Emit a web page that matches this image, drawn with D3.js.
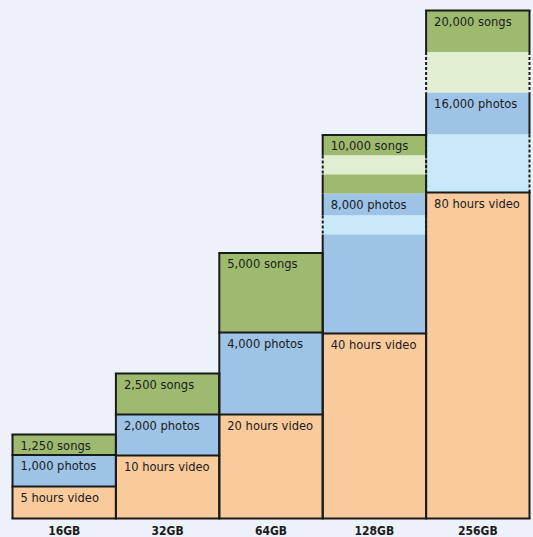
<!DOCTYPE html>
<html>
<head>
<meta charset="utf-8">
<script src="https://cdn.jsdelivr.net/npm/d3@7"></script>
<style>
  html, body { margin: 0; padding: 0; background: #edf1f9; }
  svg { display: block; }
  text { font-family: "DejaVu Sans Condensed", "DejaVu Sans", sans-serif; font-stretch: condensed; fill: #1b1b1b; }
</style>
</head>
<body>
<svg id="chart" width="533" height="537"></svg>
<script>
const capacities = ['16GB', '32GB', '64GB', '128GB', '256GB'];
const videoHours = [5, 10, 20, 40, 80];
const photoCounts = [1000, 2000, 4000, 8000, 16000];
const songCounts = [1250, 2500, 5000, 10000, 20000];

// drawn heights of each block (the art is not to scale)
const videoSpan = [32, 63, 104, 185, 326];
const photoSpan = [31.5, 41, 82, 140, 100];
const songSpan = [20.5, 41, 79.5, 58.5, 82];

// pale "cut" strip inside a block: [offset from block top, strip height]
const photoBreak = [null, null, null, [22, 19], [42, 58]];
const songBreak = [null, null, null, [20.5, 19], [41.5, 40.5]];

const fmt = d3.format(',');
const colors = {
  video: { dark: '#f9ca9b', light: '#f9ca9b' },
  photos: { dark: '#9dc3e6', light: '#c8e9fa' },
  songs: { dark: '#9dba6f', light: '#e1eed2' }
};
const ink = '#1b1b1b';

const svg = d3.select('#chart');

let x = d3.scaleBand()
  .domain(capacities)
  .range([12.5, 529.5]);

let y = d3.scaleLinear()
  .domain([0, 508])
  .range([518.5, 10.5]);

// build the stacked blocks, bottom-up
let bars = capacities.map((cap, i) => {
  let base = 0;
  let blocks = [
    { key: 'video', span: videoSpan[i], brk: null, label: videoHours[i] + ' hours video' },
    { key: 'photos', span: photoSpan[i], brk: photoBreak[i], label: fmt(photoCounts[i]) + ' photos' },
    { key: 'songs', span: songSpan[i], brk: songBreak[i], label: fmt(songCounts[i]) + ' songs' }
  ];
  blocks.forEach((b, j) => {
    b.lo = base;
    b.hi = base + b.span;
    b.top = j == blocks.length - 1;
    base = b.hi;
    // split into pieces, top-down
    if (b.brk) {
      let [off, h] = b.brk;
      b.pieces = [
        { lo: b.hi - off, hi: b.hi, light: false },
        { lo: b.hi - off - h, hi: b.hi - off, light: true }
      ];
      if (b.hi - off - h > b.lo + 0.1) {
        b.pieces.push({ lo: b.lo, hi: b.hi - off - h, light: false });
      }
    } else {
      b.pieces = [{ lo: b.lo, hi: b.hi, light: false }];
    }
  });
  return { cap: cap, blocks: blocks, total: base };
});

let g = svg.append('g');

bars.forEach(bar => {
  let x0 = x(bar.cap), x1 = x0 + x.bandwidth();
  let bg = g.append('g').attr('class', 'bar');

  bar.blocks.forEach(b => {
    bg.selectAll(null)
      .data(b.pieces).enter()
      .append('rect')
      .attr('x', x0)
      .attr('y', d => y(d.hi))
      .attr('width', x.bandwidth())
      .attr('height', d => y(d.lo) - y(d.hi))
      .style('fill', d => d.light ? colors[b.key].light : colors[b.key].dark);
  });
});

// outlines drawn after all fills so neighbours don't cover them
bars.forEach(bar => {
  let x0 = x(bar.cap), x1 = x0 + x.bandwidth();
  let og = g.append('g').attr('class', 'outline')
    .style('stroke', ink)
    .style('stroke-width', 2)
    .style('fill', 'none');

  bar.blocks.forEach(b => {
    b.pieces.forEach(p => {
      [x0, x1].forEach(xx => {
        og.append('line')
          .attr('x1', xx).attr('x2', xx)
          .attr('y1', y(p.hi)).attr('y2', y(p.lo))
          .style('stroke-dasharray', p.light ? '3,2' : null);
      });
    });
    // top rule of a block, skipped where a cut block meets the one above it
    if (!b.brk || b.top) {
      og.append('line')
        .attr('x1', x0 - 1).attr('x2', x1 + 1)
        .attr('y1', y(b.hi)).attr('y2', y(b.hi));
    }
  });

  og.append('line')
    .attr('x1', x0 - 1).attr('x2', x1 + 1)
    .attr('y1', y(0)).attr('y2', y(0));

  // block labels
  g.selectAll(null)
    .data(bar.blocks).enter()
    .append('text')
    .attr('x', x0 + 8)
    .attr('y', d => y(d.hi) + 15)
    .style('font-size', '12.8px')
    .text(d => d.label);
});

// category labels
svg.append('g')
  .selectAll('text')
  .data(capacities).enter()
  .append('text')
  .attr('x', d => x(d) + x.bandwidth() / 2)
  .attr('y', 535)
  .attr('text-anchor', 'middle')
  .style('font-size', '12px')
  .style('font-weight', 'bold')
  .text(d => d);
</script>
</body>
</html>
